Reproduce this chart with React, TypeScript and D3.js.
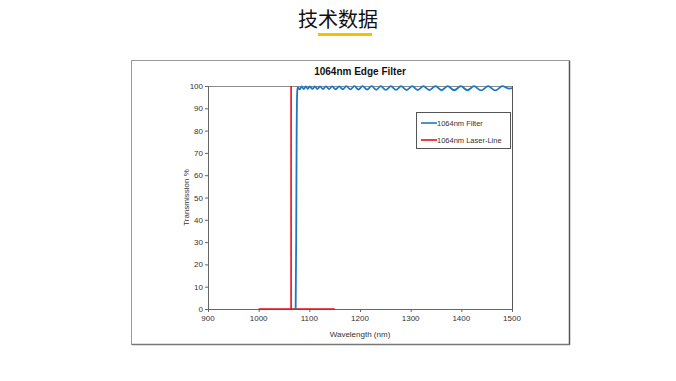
import React from "react";
import * as d3 from "d3";

const xTicks = [900, 1000, 1100, 1200, 1300, 1400, 1500];
const yTicks = [0, 10, 20, 30, 40, 50, 60, 70, 80, 90, 100];

const filterWl = [
  1073, 1074, 1075, 1076, 1077, 1081, 1085, 1089, 1093, 1097, 1101, 1106, 1111, 1116, 1121, 1127, 1133,
  1139, 1145, 1152, 1159, 1166, 1173, 1181, 1189, 1197, 1205, 1214, 1223, 1232, 1241, 1251,
  1261, 1271, 1281, 1292, 1303, 1314, 1325, 1337, 1349, 1361, 1373, 1386, 1399, 1412, 1425,
  1439, 1453, 1467, 1481, 1495, 1500,
];
const filterT = [
  0, 30, 80, 97, 99.5, 98.5, 99.8, 98.6, 99.8, 98.7, 99.8, 98.7, 99.8, 98.7, 99.8, 98.6, 99.8,
  98.6, 99.8, 98.5, 99.8, 98.5, 99.9, 98.5, 99.9, 98.4, 99.9, 98.4, 99.9, 98.3, 99.9, 98.3,
  99.9, 98.3, 99.9, 98.2, 99.9, 98.2, 99.9, 98.2, 99.9, 98.1, 99.9, 98.1, 99.9, 98.1, 99.9,
  98.0, 99.9, 98.0, 99.9, 98.8, 99.0,
];

const laserWl = [1000, 1064, 1064, 1064, 1150];
const laserT = [0, 0, 100, 0, 0];

const seriesNames = ["1064nm Filter", "1064nm Laser-Line"];
const seriesColors = ["#1f77c4", "#e8101a"];

export default function App() {
  const left = 208, right = 512, top = 86, bottom = 309;
  const x = d3.scaleLinear().domain([900, 1500]).range([left, right]);
  const y = d3.scaleLinear().domain([0, 100]).range([bottom, top]);

  const filterPts: [number, number][] = filterWl.map((w, i) => [w, filterT[i]]);
  const laserPts: [number, number][] = laserWl.map((w, i) => [w, laserT[i]]);

  const filterLine = d3
    .line<[number, number]>()
    .x((d) => x(d[0]))
    .y((d) => y(d[1]))
    .curve(d3.curveMonotoneX);
  const laserLine = d3
    .line<[number, number]>()
    .x((d) => x(d[0]))
    .y((d) => y(d[1]));

  const font = "'Liberation Sans', Arial, sans-serif";

  return (
    <svg
      width={676}
      height={381}
      style={{ position: "absolute", left: 0, top: 0, background: "#fff" }}
    >
      <text
        x={338}
        y={27}
        textAnchor="middle"
        fontFamily="'Noto Sans CJK SC', sans-serif"
        fontSize={20}
        fill="#111"
      >
        技术数据
      </text>
      <rect x={318} y={33} width={54} height={3} fill="#f5c000" />

      {/* outer frame */}
      <rect x={131.5} y={60.5} width={438} height={284} fill="#fff" stroke="#9a9a9a" strokeWidth={1} />
      <line x1={569.5} y1={61} x2={569.5} y2={345} stroke="#555" strokeWidth={1.5} />
      <line x1={132} y1={344.5} x2={570} y2={344.5} stroke="#777" strokeWidth={1.5} />

      <text
        x={360}
        y={75}
        textAnchor="middle"
        fontFamily={font}
        fontWeight="bold"
        fontSize={10}
        fill="#111"
      >
        1064nm Edge Filter
      </text>

      {/* plot frame */}
      <line x1={left} y1={top + 0.5} x2={right} y2={top + 0.5} stroke="#8c8c8c" strokeWidth={1} />
      <line x1={right + 0.5} y1={top} x2={right + 0.5} y2={bottom} stroke="#555" strokeWidth={1} />
      <line x1={left + 0.5} y1={top} x2={left + 0.5} y2={bottom + 0.5} stroke="#666" strokeWidth={1} />
      <line x1={left} y1={bottom + 0.5} x2={right + 1} y2={bottom + 0.5} stroke="#666" strokeWidth={1} />

      {yTicks.map((t) => (
        <g key={"y" + t}>
          <line x1={left - 3} x2={left} y1={y(t) + 0.5} y2={y(t) + 0.5} stroke="#666" />
          <text
            x={left - 5}
            y={y(t) + 3}
            textAnchor="end"
            fontFamily={font}
            fontSize={8}
            fill="#333"
          >
            {t}
          </text>
        </g>
      ))}
      {xTicks.map((t) => (
        <g key={"x" + t}>
          <line x1={x(t) + 0.5} x2={x(t) + 0.5} y1={bottom} y2={bottom + 3} stroke="#666" />
          <text
            x={x(t)}
            y={bottom + 12}
            textAnchor="middle"
            fontFamily={font}
            fontSize={8}
            fill="#333"
          >
            {t}
          </text>
        </g>
      ))}

      <text
        x={360}
        y={337}
        textAnchor="middle"
        fontFamily={font}
        fontSize={8}
        fill="#333"
      >
        Wavelength (nm)
      </text>
      <text
        transform={`translate(189, ${(top + bottom) / 2}) rotate(-90)`}
        textAnchor="middle"
        fontFamily={font}
        fontSize={8}
        fill="#333"
      >
        Transmission %
      </text>

      <path d={laserLine(laserPts) || ""} fill="none" stroke={seriesColors[1]} strokeWidth={1.6} />
      <path d={filterLine(filterPts) || ""} fill="none" stroke={seriesColors[0]} strokeWidth={1.8} />

      {/* legend */}
      <rect x={416.5} y={112.5} width={94} height={36} fill="#fff" stroke="#555" strokeWidth={1} />
      {seriesNames.map((n, i) => (
        <g key={n}>
          <line
            x1={421}
            x2={437}
            y1={123 + i * 17}
            y2={123 + i * 17}
            stroke={seriesColors[i]}
            strokeWidth={1.6}
          />
          <text
            x={437}
            y={126 + i * 17}
            fontFamily={font}
            fontSize={7.5}
            fill="#333"
          >
            {n}
          </text>
        </g>
      ))}
    </svg>
  );
}
